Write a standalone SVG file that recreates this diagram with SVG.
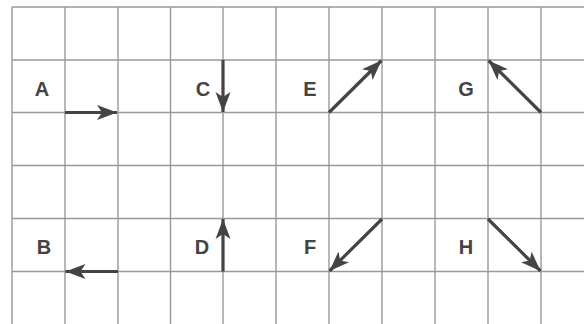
<svg xmlns="http://www.w3.org/2000/svg" width="584" height="324" viewBox="0 0 584 324">
<style>
.grid line{stroke:#999;stroke-width:1.4}
.arr{stroke:#444;stroke-width:3.2;fill:none;marker-end:url(#ah)}
.lbl{font-family:"Liberation Sans",Arial,sans-serif;font-weight:bold;font-size:20px;fill:#444;text-anchor:middle}
</style>
<defs>
<marker id="ah" markerUnits="userSpaceOnUse" markerWidth="24" markerHeight="18" refX="20" refY="8" orient="auto" viewBox="0 0 24 18">
<path d="M20,8 L0,0.5 L5,8 L0,15.5 Z" fill="#444"/>
</marker>
</defs>
<rect width="584" height="324" fill="#fff"/>
<g class="grid" id="grid">
<line x1="12" y1="7" x2="584" y2="7"/>
<line x1="12" y1="60" x2="584" y2="60"/>
<line x1="12" y1="112.5" x2="584" y2="112.5"/>
<line x1="12" y1="165.5" x2="584" y2="165.5"/>
<line x1="12" y1="218.5" x2="584" y2="218.5"/>
<line x1="12" y1="271.5" x2="584" y2="271.5"/>
<line x1="12" y1="7" x2="12" y2="324"/>
<line x1="65" y1="7" x2="65" y2="324"/>
<line x1="118" y1="7" x2="118" y2="324"/>
<line x1="170.5" y1="7" x2="170.5" y2="324"/>
<line x1="223" y1="7" x2="223" y2="324"/>
<line x1="276" y1="7" x2="276" y2="324"/>
<line x1="329" y1="7" x2="329" y2="324"/>
<line x1="382" y1="7" x2="382" y2="324"/>
<line x1="435" y1="7" x2="435" y2="324"/>
<line x1="488" y1="7" x2="488" y2="324"/>
<line x1="541" y1="7" x2="541" y2="324"/>
</g>
<g id="connectors">
<line class="arr" x1="65" y1="112.5" x2="117" y2="112.5"/>
<line class="arr" x1="223" y1="60" x2="223" y2="112"/>
<line class="arr" x1="329" y1="112.5" x2="381.5" y2="60.5"/>
<line class="arr" x1="541" y1="112.5" x2="488.5" y2="60.5"/>
<line class="arr" x1="118" y1="271.5" x2="65.5" y2="271.5"/>
<line class="arr" x1="223" y1="271.5" x2="223" y2="219"/>
<line class="arr" x1="382" y1="219" x2="329.5" y2="271"/>
<line class="arr" x1="488" y1="219" x2="540.5" y2="271"/>
</g>
<g id="A"><text class="lbl" x="42" y="95.5">A</text></g>
<g id="C"><text class="lbl" x="203" y="95.5">C</text></g>
<g id="E"><text class="lbl" x="310" y="95.5">E</text></g>
<g id="G"><text class="lbl" x="466" y="95.5">G</text></g>
<g id="B"><text class="lbl" x="44" y="253.5">B</text></g>
<g id="D"><text class="lbl" x="202" y="253.5">D</text></g>
<g id="F"><text class="lbl" x="310" y="253.5">F</text></g>
<g id="H"><text class="lbl" x="466" y="253.5">H</text></g>
</svg>
